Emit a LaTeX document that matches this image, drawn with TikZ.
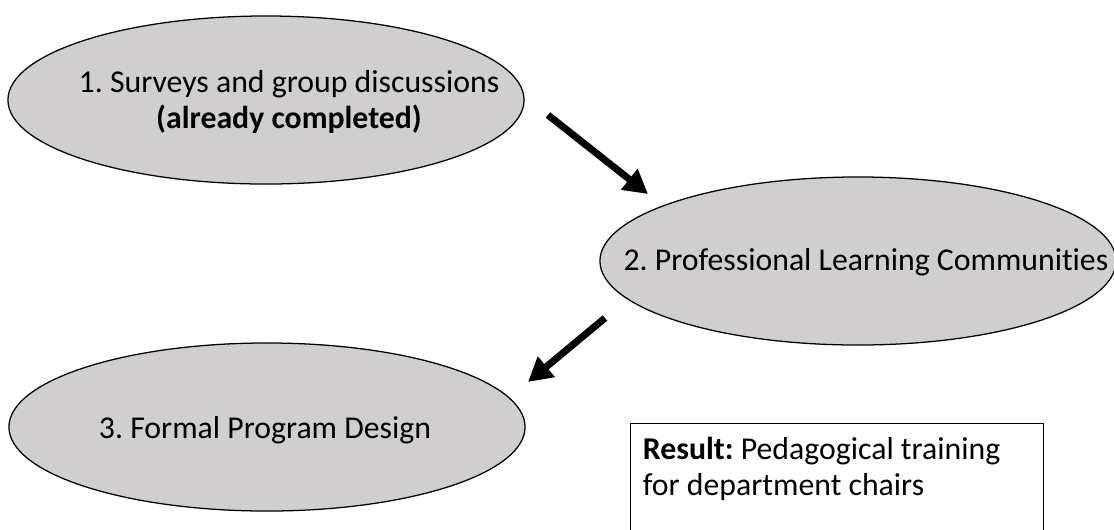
\documentclass[tikz,border=0pt]{standalone}
\usepackage{fontspec}
\setmainfont{Carlito}[Ligatures=NoCommon]
\frenchspacing
\usetikzlibrary{shapes.geometric,arrows.meta}
\definecolor{stagegray}{RGB}{208,206,206}
\begin{document}
\begin{tikzpicture}[x=0.025cm,y=-0.025cm]
\tikzstyle{stage} = [ellipse,draw,line width=0.9pt,fill=stagegray,minimum width=12.9cm,minimum height=4.2cm,inner sep=0pt]
\tikzstyle{stagetext} = [font=\fontsize{22.6}{25.5}\selectfont,align=center]
\tikzstyle{bigarrow} = [line width=5pt,-{Triangle[length=17pt,width=18pt]}]
%cadre
\useasboundingbox (0,0) rectangle (1114,529);
\clip (0,0) rectangle (1114,529);
%les ellipses
\node[stage] (s1) at (266,100) {};
\node[stage] (s2) at (858,261) {};
\node[stage] (s3) at (267,427) {};
%les textes
\node[stagetext] (t1) at (289,102) {1. Surveys and group discussions\\\textbf{(already completed)}};
\node[stagetext] (t2) at (866,262) {2. Professional Learning Communities};
\node[stagetext] (t3) at (265,430) {3. Formal Program Design};
%les flèches
\coordinate (a1) at (548,115);
\coordinate (b1) at (648,194);
\coordinate (a2) at (605,318);
\coordinate (b2) at (528,382);
\draw[bigarrow] (a1)--(b1);
\draw[bigarrow] (a2)--(b2);
%résultat
\node[stagetext,align=left,anchor=north west,inner xsep=9pt,inner ysep=10pt] (res) at (630,423) {\textbf{Result:} Pedagogical training\\for department chairs};
\draw[line width=0.7pt] (res.north west) rectangle ++(413,150);
\end{tikzpicture}
\end{document}
